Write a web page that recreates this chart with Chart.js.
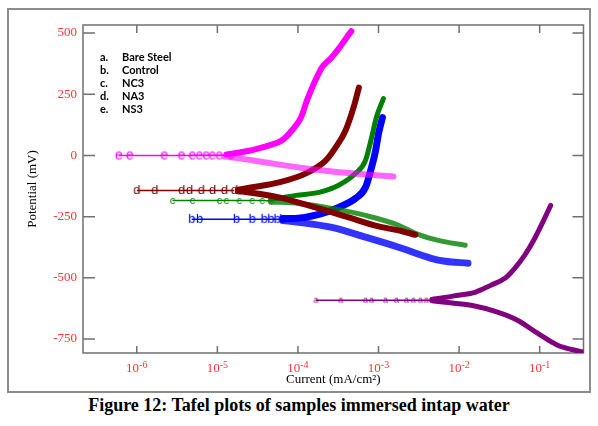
<!DOCTYPE html>
<html>
<head>
<meta charset="utf-8">
<title>Tafel plots</title>
<script src="https://cdn.jsdelivr.net/npm/chart.js@4.4.1/dist/chart.umd.min.js"></script>
<style>
  body { margin: 0; background: #fff; width: 598px; height: 426px; overflow: hidden; position: relative; }
  #frame { position: absolute; left: 7px; top: 8px; width: 580px; height: 381px; border: 2px solid #8c8c8c; }
  #chartBox { position: absolute; left: 0; top: 0; width: 580px; height: 381px; }
  #legend { position: absolute; left: 100px; top: 50px; font: bold 11px Lato, "Open Sans", sans-serif; color: #000; line-height: 13.1px; }
  #legend div span { display: inline-block; width: 22px; }
  #caption { position: absolute; left: 0; width: 598px; top: 395px; text-align: center; font: bold 18px "Liberation Serif", "Times New Roman", serif; color: #000; }
</style>
</head>
<body>
<div id="frame"><div id="chartBox"><canvas id="tafelChart"></canvas></div></div>
<div id="legend"></div>
<div id="caption">Figure 12: Tafel plots of samples immersed intap water</div>

<script>
// === Legend entries (letter = point marker used on each curve) ===
const sampleLetters = ["a.", "b.", "c.", "d.", "e."];
const sampleNames = ["Bare Steel", "Control", "NC3", "NA3", "NS3"];

// === Axis ticks ===
const currentTicks = [1e-6, 1e-5, 1e-4, 1e-3, 1e-2, 1e-1];
const currentTickExps = ["-6", "-5", "-4", "-3", "-2", "-1"];
const potentialTicks = [500, 250, 0, -250, -500, -750];

// === e. NS3 (magenta) : current mA/cm², potential mV ===
const nsCorrI = [1.49e-5, 1.06e-5, 8.7e-6, 7.3e-6, 6.0e-6, 4.9e-6, 3.6e-6, 2.2e-6, 8.2e-7, 6.0e-7];
const nsCorrE = [1, 0, 0, 0, 0, 0, 0, 0, 0, 0];
const nsAnoI = [1.3e-5, 1.87e-5, 2.86e-5, 4.4e-5, 6.3e-5, 8.4e-5, 1.09e-4, 1.29e-4, 1.58e-4, 1.98e-4, 2.55e-4, 3.2e-4, 4.0e-4, 4.6e-4];
const nsAnoE = [4, 12, 24, 41, 61, 102, 155, 224, 294, 359, 396, 436, 481, 508];
const nsCatI = [1.53e-3, 4.65e-4, 1.26e-4, 4.0e-5, 1.87e-5, 1.22e-5];
const nsCatE = [-86, -73, -53, -29, -12, -4];

// === d. NA3 (maroon) ===
const naCorrI = [1.62e-5, 1.22e-5, 8.7e-6, 6.3e-6, 4.5e-6, 3.6e-6, 1.67e-6, 1.0e-6];
const naCorrE = [-143, -143, -143, -143, -143, -143, -143, -143];
const naAnoI = [1.8e-5, 2.7e-5, 5.8e-5, 1.26e-4, 2.22e-4, 2.94e-4, 3.9e-4, 4.9e-4, 5.7e-4];
const naAnoE = [-140, -130, -110, -73, -20, 33, 102, 196, 277];
const naCatI = [2.86e-3, 1.77e-3, 1.0e-3, 3.9e-4, 1.49e-4, 5.8e-5, 2.48e-5, 1.8e-5];
const naCatE = [-324, -306, -290, -249, -208, -171, -151, -146];

// === c. NC3 (green) ===
const ncCorrI = [4.6e-5, 3.6e-5, 2.7e-5, 1.87e-5, 1.29e-5, 1.06e-5, 4.9e-6, 2.78e-6];
const ncCorrE = [-186, -184, -184, -184, -184, -184, -184, -184];
const ncAnoI = [4.6e-5, 5.8e-5, 9.4e-5, 1.82e-4, 3.2e-4, 5.2e-4, 6.9e-4, 8.2e-4, 9.4e-4, 1.15e-3];
const ncAnoE = [-180, -175, -163, -151, -122, -73, -20, 73, 155, 232];
const ncCatI = [1.19e-2, 5.5e-3, 2.86e-3, 1.77e-3, 6.9e-4, 2.63e-4, 1.03e-4, 4.6e-5];
const ncCatE = [-367, -347, -318, -285, -245, -216, -196, -190];

// === b. Control (blue) ===
const ctCorrI = [6.5e-5, 5.5e-5, 4.6e-5, 3.8e-5, 2.7e-5, 1.72e-5, 6.0e-6, 4.8e-6];
const ctCorrE = [-261, -261, -261, -261, -261, -261, -261, -261];
const ctAnoI = [6.5e-5, 9.4e-5, 1.82e-4, 3.2e-4, 5.2e-4, 6.9e-4, 8.0e-4, 9.2e-4, 1.0e-3, 1.12e-3];
const ctAnoE = [-258, -257, -241, -212, -175, -130, -61, 20, 90, 155];
const ctCatI = [1.29e-2, 6.7e-3, 4.5e-3, 1.77e-3, 6.9e-4, 2.63e-4, 1.03e-4, 6.5e-5];
const ctCatE = [-440, -432, -420, -375, -334, -294, -273, -266];

// === a. Bare Steel (purple) ===
const bsCorrI = [4.6e-3, 3.9e-3, 3.3e-3, 2.7e-3, 2.22e-3, 1.67e-3, 1.22e-3, 8.2e-4, 6.9e-4, 3.4e-4, 1.67e-4];
const bsCorrE = [-591, -591, -591, -591, -591, -591, -591, -591, -591, -591, -591];
const bsAnoI = [4.6e-3, 6.7e-3, 9.7e-3, 1.58e-2, 2.48e-2, 3.7e-2, 4.9e-2, 6.5e-2, 8.7e-2, 0.115, 0.137];
const bsAnoE = [-588, -580, -571, -559, -530, -502, -461, -408, -338, -257, -204];
const bsCatI = [0.34, 0.167, 9.4e-2, 5.3e-2, 3.0e-2, 1.41e-2, 6.7e-3, 4.6e-3];
const bsCatE = [-803, -775, -726, -673, -640, -612, -600, -594];

// Fill the legend text
const legendBox = document.getElementById("legend");
sampleLetters.forEach((l, i) => {
  const row = document.createElement("div");
  row.innerHTML = "<span>" + l + "</span>" + sampleNames[i];
  legendBox.appendChild(row);
});

// Small canvas holding a letter, used as point marker
function letterMarker(ch, color, size) {
  const c = document.createElement("canvas");
  c.width = Math.ceil(size) + 2;
  c.height = Math.ceil(size) + 2;
  const g = c.getContext("2d");
  g.fillStyle = color;
  g.font = size + 'px "Liberation Sans", Arial, sans-serif';
  g.textAlign = "center";
  g.textBaseline = "middle";
  g.fillText(ch, c.width / 2, c.height / 2);
  return c;
}

function pairs(xs, ys) {
  return xs.map((x, i) => ({ x: x, y: ys[i] }));
}

// One sample -> three datasets: sparse Ecorr points, anodic band, cathodic band
function sampleSets(name, letter, color, bandColor, markerSize, corr, ano, cat, width) {
  const marker = letterMarker(letter, color, markerSize);
  const band = {
    borderWidth: width,
    pointRadius: 0,
    showLine: true,
    cubicInterpolationMode: "monotone",
    borderCapStyle: "round",
    borderJoinStyle: "round",
  };
  return [
    {
      label: name + " Ecorr",
      data: pairs(corr[0], corr[1]),
      borderColor: color,
      backgroundColor: color,
      borderWidth: 1.5,
      pointStyle: marker,
      pointRadius: 4,
      showLine: true,
      tension: 0,
    },
    Object.assign({ label: name + " anodic", data: pairs(ano[0], ano[1]), borderColor: color }, band),
    Object.assign({ label: name + " cathodic", data: pairs(cat[0], cat[1]), borderColor: bandColor }, band),
  ];
}

const datasets = [].concat(
  sampleSets("NS3", "e", "#ff00ff", "rgba(255,0,255,0.6)", 14, [nsCorrI, nsCorrE], [nsAnoI, nsAnoE], [nsCatI, nsCatE], 6),
  sampleSets("NA3", "d", "#800000", "#800000", 13, [naCorrI, naCorrE], [naAnoI, naAnoE], [naCatI, naCatE], 6),
  sampleSets("NC3", "c", "#008000", "rgba(0,128,0,0.8)", 11, [ncCorrI, ncCorrE], [ncAnoI, ncAnoE], [ncCatI, ncCatE], 5),
  sampleSets("Control", "b", "#0000ff", "rgba(0,0,255,0.8)", 13, [ctCorrI, ctCorrE], [ctAnoI, ctAnoE], [ctCatI, ctCatE], 7),
  sampleSets("Bare Steel", "a", "#800080", "#800080", 9, [bsCorrI, bsCorrE], [bsAnoI, bsAnoE], [bsCatI, bsCatE], 5)
);

const serif = "'Liberation Serif', 'Times New Roman', serif";

// Box around the plot area, inward tick marks, and 10^n labels under the x axis
const frameTicks = {
  id: "frameTicks",
  beforeDatasetsDraw(chart) {
    const { ctx, chartArea: a, scales } = chart;
    ctx.save();
    ctx.strokeStyle = "#707070";
    ctx.lineWidth = 1.5;
    ctx.strokeRect(a.left, a.top, a.right - a.left, a.bottom - a.top);
    ctx.beginPath();
    scales.x.ticks.forEach((t) => {
      const px = scales.x.getPixelForValue(t.value);
      ctx.moveTo(px, a.bottom);
      ctx.lineTo(px, a.bottom - 7);
      ctx.moveTo(px, a.top);
      ctx.lineTo(px, a.top + 8);
    });
    scales.y.ticks.forEach((t) => {
      const py = scales.y.getPixelForValue(t.value);
      ctx.moveTo(a.left, py);
      ctx.lineTo(a.left + 12, py);
      ctx.moveTo(a.right, py);
      ctx.lineTo(a.right - 11, py);
    });
    ctx.stroke();

    // x tick labels with a raised exponent
    ctx.fillStyle = "#ff3333";
    ctx.textBaseline = "alphabetic";
    ctx.textAlign = "left";
    currentTicks.forEach((v, i) => {
      const px = scales.x.getPixelForValue(v);
      ctx.font = "13px " + serif;
      const wBase = ctx.measureText("10").width;
      ctx.font = "10px " + serif;
      const wExp = ctx.measureText(currentTickExps[i]).width;
      const x0 = px - (wBase + wExp) / 2;
      ctx.font = "13px " + serif;
      ctx.fillText("10", x0, a.bottom + 19);
      ctx.font = "10px " + serif;
      ctx.fillText(currentTickExps[i], x0 + wBase, a.bottom + 15);
    });
    ctx.restore();
  },
};

const ctx = document.getElementById("tafelChart").getContext("2d");
new Chart(ctx, {
  type: "scatter",
  data: { datasets: datasets },
  options: {
    responsive: true,
    maintainAspectRatio: false,
    animation: false,
    layout: { padding: { top: 15, right: 3, left: 0, bottom: 0 } },
    plugins: {
      legend: { display: false },
      tooltip: { enabled: false },
    },
    scales: {
      x: {
        type: "logarithmic",
        min: 2.15e-7,
        max: 0.35,
        afterBuildTicks: (s) => { s.ticks = currentTicks.map((v) => ({ value: v })); },
        afterFit: (s) => { s.height = 38; },
        grid: { display: false, drawTicks: false },
        border: { display: false },
        ticks: { display: false },
        title: {
          display: true,
          text: "Current (mA/cm²)",
          color: "#000",
          padding: { top: 0, bottom: 4 },
          font: { family: serif, size: 13 },
        },
      },
      y: {
        min: -807,
        max: 533,
        afterBuildTicks: (s) => { s.ticks = potentialTicks.map((v) => ({ value: v })); },
        afterFit: (s) => { s.width = 74; },
        grid: { display: false, drawTicks: false },
        border: { display: false },
        ticks: {
          color: "#ff3333",
          padding: 6,
          font: { family: serif, size: 13 },
        },
        title: {
          display: true,
          text: "Potential (mV)",
          color: "#000",
          padding: { top: 16, bottom: 0 },
          font: { family: serif, size: 13 },
        },
      },
    },
  },
  plugins: [frameTicks],
});
</script>
</body>
</html>
